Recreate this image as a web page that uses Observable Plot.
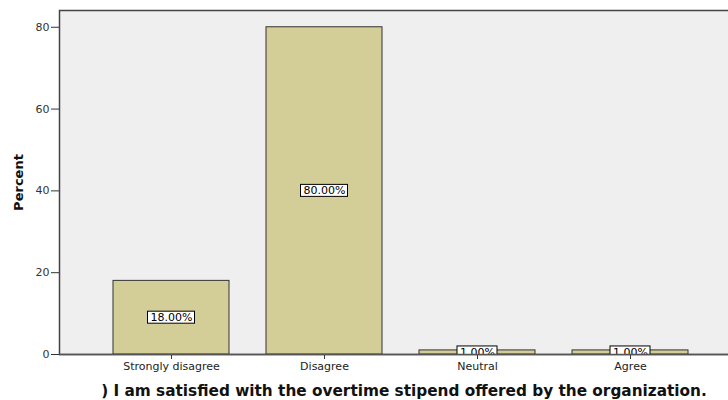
<!DOCTYPE html>
<html>
<head>
<meta charset="utf-8">
<script src="https://cdn.jsdelivr.net/npm/d3@7"></script>
<script src="https://cdn.jsdelivr.net/npm/@observablehq/plot@0.6"></script>
<style>
  html, body { margin: 0; padding: 0; background: #fff; }
  svg { display: block; }
</style>
</head>
<body>
<div id="chart"></div>
<script>
const categories = ["Strongly disagree", "Disagree", "Neutral", "Agree"];
const percents = [18, 80, 1, 1];
const yTicks = [0, 20, 40, 60, 80];
const xTitle = ") I am satisfied with the overtime stipend offered by the organization.";
const yTitle = "Percent";

const data = categories.map((c, i) => ({category: c, percent: percents[i], label: percents[i].toFixed(2) + "%"}));

// label boxes: one bar mark per label length (box width follows text width)
const barWidth = 116;
const lengths = Array.from(new Set(data.map(d => d.label.length)));
const boxMarks = lengths.map(n => {
  const w = n * 7 + 5;
  const inset = (barWidth - w) / 2;
  return Plot.barY(data.filter(d => d.label.length === n), {
    x: "category", y1: d => d.percent / 2, y2: d => d.percent / 2,
    insetTop: -6, insetBottom: -6, insetLeft: inset, insetRight: inset,
    fill: "#fff", stroke: "#000", strokeWidth: 1, clip: true
  });
});

const chart = Plot.plot({
  width: 728,
  height: 400,
  marginTop: 10,
  marginBottom: 46,
  marginLeft: 59,
  marginRight: -14,
  style: {fontFamily: "'DejaVu Sans', sans-serif", fontSize: "11px", color: "#222", background: "#fff"},
  x: {domain: categories, paddingInner: 0.244, paddingOuter: 0.345},
  y: {domain: [0, 84.1]},
  marks: [
    Plot.frame({fill: "#efefef", stroke: "#444", strokeWidth: 1.5}),
    Plot.barY(data, {x: "category", y: "percent", fill: "#d3cd98", stroke: "#333", strokeWidth: 1}),
    ...boxMarks,
    Plot.text(data, {x: "category", y: d => d.percent / 2, text: "label",
      fill: "#000", fontSize: 11, clip: true}),
    Plot.axisY({ticks: yTicks, tickSize: 8, tickPadding: 2, label: null, stroke: "#333", fill: "#333"}),
    Plot.axisX({tickSize: 5, tickPadding: 3, label: null, stroke: "#333", fill: "#222"}),
    Plot.ruleY([0], {stroke: "#555", strokeWidth: 1.5}),
    Plot.text([yTitle], {frameAnchor: "left", dx: -41, rotate: -90, textAnchor: "middle",
      fontWeight: "bold", fontSize: 13, fill: "#111"}),
    Plot.text([xTitle], {frameAnchor: "bottom", dx: 3, dy: 37, lineAnchor: "middle",
      fontWeight: "bold", fontSize: 15.3, fill: "#111"})
  ]
});
document.getElementById("chart").appendChild(chart);
</script>
</body>
</html>
